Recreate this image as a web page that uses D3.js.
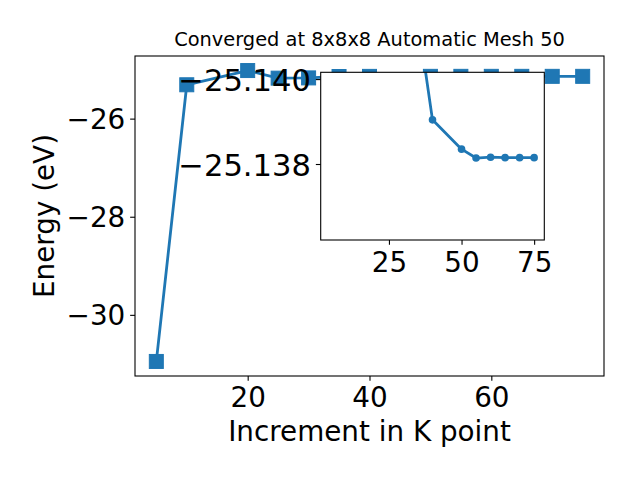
<!DOCTYPE html>
<html>
<head>
<meta charset="utf-8">
<script src="https://cdn.jsdelivr.net/npm/d3@7"></script>
<style>
  html, body { margin: 0; padding: 0; background: #fff; }
  svg { display: block; }
  text { font-family: "DejaVu Sans", sans-serif; fill: #000; }
</style>
</head>
<body>
<svg id="chart" width="640" height="480"></svg>
<script>
// ---- data ----
const kPoints = [5, 10, 20, 25, 30, 35, 40, 50, 55, 60, 65, 70, 75];
const energies = [-30.95, -25.31, -25.02, -25.175, -25.17, -25.1414, -25.13904,
                  -25.13835, -25.13814, -25.13816, -25.13815, -25.13815, -25.13815];
const mainXTicks = [20, 40, 60];
const mainYTicks = [-26, -28, -30];
const insetXTicks = [25, 50, 75];
const insetYTicks = [-25.140, -25.138];
const insetMinK = 35;
const titleText = "Converged at 8x8x8 Automatic Mesh 50";
const xLabelText = "Increment in K point";
const yLabelText = "Energy (eV)";

const color = "#1f77b4";
const svg = d3.select("#chart");
svg.append("rect").attr("width", 640).attr("height", 480).attr("fill", "#fff");

const pts = kPoints.map((k, i) => ({k, e: energies[i]}));

// ---- main axes ----
const M = {left: 135, right: 604, top: 56, bottom: 376};
const x = d3.scaleLinear().domain([1.5, 78.5]).range([M.left, M.right]);
const eMin = d3.min(energies), eMax = d3.max(energies), eR = eMax - eMin;
const y = d3.scaleLinear().domain([eMin - 0.05 * eR, eMax + 0.05 * eR]).range([M.bottom, M.top]);

svg.append("clipPath").attr("id", "mainClip").append("rect")
  .attr("x", M.left).attr("y", M.top).attr("width", M.right - M.left).attr("height", M.bottom - M.top);

const gMain = svg.append("g").attr("clip-path", "url(#mainClip)");
gMain.append("path").datum(pts)
  .attr("d", d3.line().x(d => x(d.k)).y(d => y(d.e)))
  .attr("fill", "none").attr("stroke", color).attr("stroke-width", 2.8)
  .attr("stroke-linejoin", "round");
const sq = 14;
gMain.selectAll("rect.m").data(pts).enter().append("rect")
  .attr("x", d => x(d.k) - sq / 2).attr("y", d => y(d.e) - sq / 2)
  .attr("width", sq).attr("height", sq)
  .attr("fill", color).attr("stroke", color).attr("stroke-width", 1);

const tickFont = 27.8;
function styleAxis(g, fs) {
  g.select(".domain").remove();
  g.selectAll(".tick line").attr("stroke", "#000").attr("stroke-width", 1.1);
  g.selectAll(".tick text").attr("font-size", fs || tickFont).attr("font-family", "DejaVu Sans");
}
const gx = svg.append("g").attr("transform", `translate(0,${M.bottom})`)
  .call(d3.axisBottom(x).tickValues(mainXTicks).tickSize(4.86).tickPadding(4.86).tickFormat(d3.format("d")));
styleAxis(gx);
gx.selectAll(".tick text").attr("dy", null).attr("y", 31);

const gy = svg.append("g").attr("transform", `translate(${M.left},0)`)
  .call(d3.axisLeft(y).tickValues(mainYTicks).tickSize(4.86).tickPadding(4.86).tickFormat(d3.format("d")));
styleAxis(gy);
gy.selectAll(".tick text").attr("dy", "0.36em");

svg.append("rect").attr("x", M.left).attr("y", M.top)
  .attr("width", M.right - M.left).attr("height", M.bottom - M.top)
  .attr("fill", "none").attr("stroke", "#000").attr("stroke-width", 1.1);

svg.append("text").attr("x", (M.left + M.right) / 2).attr("y", 441)
  .attr("text-anchor", "middle").attr("font-size", 27.8).text(xLabelText);
svg.append("text").attr("transform", `translate(53.5,${(M.top + M.bottom) / 2}) rotate(-90)`)
  .attr("text-anchor", "middle").attr("font-size", 27.8).text(yLabelText);
svg.append("text").attr("x", (M.left + M.right) / 2).attr("y", 46)
  .attr("text-anchor", "middle").attr("font-size", 19.4).text(titleText);

// ---- inset axes ----
const I = {left: 320.7, right: 544.3, top: 72.3, bottom: 240};
const xi = d3.scaleLinear().domain([1.5, 78.5]).range([I.left, I.right]);
const yi = d3.scaleLinear().domain([-25.14016, -25.13621]).range([I.top, I.bottom]);

svg.append("rect").attr("x", I.left).attr("y", I.top)
  .attr("width", I.right - I.left).attr("height", I.bottom - I.top).attr("fill", "#fff");
svg.append("clipPath").attr("id", "insetClip").append("rect")
  .attr("x", I.left).attr("y", I.top).attr("width", I.right - I.left).attr("height", I.bottom - I.top);

const ipts = pts.filter(d => d.k >= insetMinK);
const gIn = svg.append("g").attr("clip-path", "url(#insetClip)");
gIn.append("path").datum(ipts)
  .attr("d", d3.line().x(d => xi(d.k)).y(d => yi(d.e)))
  .attr("fill", "none").attr("stroke", color).attr("stroke-width", 2.8)
  .attr("stroke-linejoin", "round");
gIn.selectAll("circle").data(ipts).enter().append("circle")
  .attr("cx", d => xi(d.k)).attr("cy", d => yi(d.e)).attr("r", 3.8)
  .attr("fill", color);

const gxi = svg.append("g").attr("transform", `translate(0,${I.bottom})`)
  .call(d3.axisBottom(xi).tickValues(insetXTicks).tickSize(4.86).tickPadding(4.86).tickFormat(d3.format("d")));
styleAxis(gxi);
gxi.selectAll(".tick text").attr("dy", null).attr("y", 31.5);

const gyi = svg.append("g").attr("transform", `translate(${I.left},0)`)
  .call(d3.axisLeft(yi).tickValues(insetYTicks).tickSize(4.86).tickPadding(4.86).tickFormat(d3.format(".3f")));
styleAxis(gyi, 30.6);
gyi.selectAll(".tick text").attr("dy", "0.36em");

svg.append("rect").attr("x", I.left).attr("y", I.top)
  .attr("width", I.right - I.left).attr("height", I.bottom - I.top)
  .attr("fill", "none").attr("stroke", "#000").attr("stroke-width", 1.1);
</script>
</body>
</html>
